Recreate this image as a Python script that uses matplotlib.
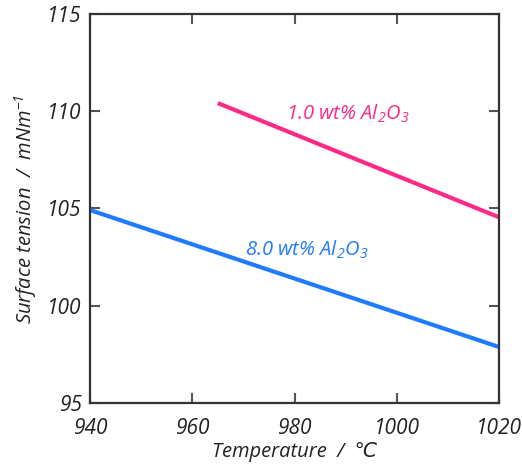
import matplotlib
matplotlib.use("Agg")
import matplotlib.pyplot as plt

# Data
temp_1wt = [965, 1020]
st_1wt = [110.42, 104.55]
temp_8wt = [940, 1020]
st_8wt = [104.92, 97.88]

xticks = [940, 960, 980, 1000, 1020]
yticks = [95, 100, 105, 110, 115]

label_1wt = "1.0 wt% Al$_2$O$_3$"
label_8wt = "8.0 wt% Al$_2$O$_3$"

pink = "#FF2A86"
blue = "#1F7BFF"

plt.rcParams['font.family'] = ['Open Sans', 'DejaVu Sans']
plt.rcParams['mathtext.fontset'] = 'custom'
plt.rcParams['mathtext.rm'] = 'Open Sans:italic'
plt.rcParams['mathtext.it'] = 'Open Sans:italic'

fig = plt.figure(figsize=(5.22, 4.68), dpi=100)
ax = fig.add_axes([90/522, 1 - 403/468, 409/522, 389/468])

ax.plot(temp_1wt, st_1wt, color=pink, lw=3, solid_capstyle='butt')
ax.plot(temp_8wt, st_8wt, color=blue, lw=3, solid_capstyle='butt')

ax.text(978.3, 109.85, label_1wt, color=pink, fontsize=14.5, style='italic', va='center', ha='left')
ax.text(970.3, 102.85, label_8wt, color=blue, fontsize=14.5, style='italic', va='center', ha='left')

ax.set_xlim(940, 1020)
ax.set_ylim(95, 115)
ax.set_xticks(xticks)
ax.set_yticks(yticks)
ax.set_xticklabels([str(v) for v in xticks], fontsize=15, style='italic', color='#222222')
ax.set_yticklabels([str(v) for v in yticks], fontsize=15, style='italic', color='#222222')

ax.tick_params(direction='in', length=7, width=1.5, color='#555555', top=True, right=True)
ax.tick_params(axis='x', pad=11)
ax.tick_params(axis='y', pad=6)

for s in ax.spines.values():
    s.set_linewidth(1.6)
    s.set_color('#333333')

ax.set_xlabel("Temperature  /  \u2103", fontsize=14.5, style='italic', color='#222222', labelpad=2)
ax.set_ylabel("Surface tension  /  mNm$^{-1}$", fontsize=14.5, style='italic', color='#222222', labelpad=6)

fig.savefig("out.png", dpi=100)
